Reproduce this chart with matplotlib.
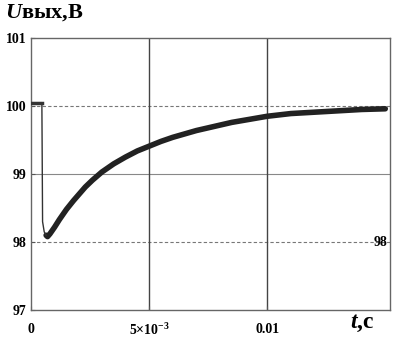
import matplotlib.pyplot as plt

# Dados (tempo em s, tensão em V)
t_ini = [0, 0.00046, 0.00047, 0.00049, 0.00056, 0.00064]
u_ini = [100.05, 100.05, 99.5, 98.3, 98.15, 98.1]

t = [0.00064, 0.0007, 0.0008, 0.0010, 0.0012, 0.0015, 0.0018, 0.002,
     0.0023, 0.0026, 0.003, 0.0035, 0.004, 0.0045, 0.005, 0.0055, 0.006,
     0.0065, 0.007, 0.0075, 0.008, 0.0085, 0.009, 0.0095, 0.010, 0.011,
     0.012, 0.013, 0.014, 0.015]
u = [98.1, 98.08, 98.12, 98.22, 98.33, 98.48, 98.61, 98.69,
     98.81, 98.91, 99.03, 99.15, 99.25, 99.34, 99.41, 99.48, 99.54,
     99.59, 99.64, 99.68, 99.72, 99.76, 99.79, 99.82, 99.85, 99.89,
     99.91, 99.93, 99.95, 99.96]

xticks = [0, 0.005, 0.01]
xlabels = ['0', r'$\mathbf{5{\times}10^{-3}}$', '0.01']
yticks = [97, 98, 99, 100, 101]

plt.rcParams['font.family'] = 'Liberation Serif'
plt.rcParams['font.weight'] = 'bold'
plt.rcParams['mathtext.fontset'] = 'custom'
plt.rcParams['mathtext.rm'] = 'Liberation Serif'
plt.rcParams['mathtext.it'] = 'Liberation Serif:italic:bold'
plt.rcParams['mathtext.bf'] = 'Liberation Serif:bold'

fig = plt.figure(figsize=(4, 3.43), dpi=100)
ax = fig.add_axes([0.0775, 0.096, 0.8975, 0.793])

ax.set_xlim(0, 0.0152)
ax.set_ylim(97, 101)

# linhas de grade no estilo Mathcad
ax.axhline(100, color='#777777', lw=0.8, ls=(0, (3, 2)), zorder=1)
ax.axhline(98, color='#777777', lw=0.8, ls=(0, (3, 2)), zorder=1)
ax.axhline(99, color='#888888', lw=0.8, zorder=1)
for xv in [0.005, 0.01]:
    ax.axvline(xv, color='#444444', lw=1.0, zorder=1)

ax.plot(t_ini, u_ini, color='#333333', lw=1.0, zorder=4)
ax.plot(t_ini[:2], u_ini[:2], color='#333333', lw=2.5, zorder=4)
ax.plot(t, u, color='#222222', lw=4.0, solid_capstyle='round', zorder=3)

ax.set_xticks(xticks)
ax.set_xticklabels(xlabels, fontsize=10, fontweight='bold')
ax.set_yticks(yticks)
ax.set_yticklabels([str(v) for v in yticks], fontsize=10, fontweight='bold')
ax.tick_params(direction='in', length=3, width=0.8, color='#555555', pad=3)
ax.tick_params(axis='x', pad=9)

for s in ax.spines.values():
    s.set_color('#666666')
    s.set_linewidth(1.0)

ax.text(0.0151, 98, '98', fontsize=10, fontweight='bold', ha='right', va='center')

fig.text(0.012, 0.963, r'$\mathit{U}$вых,В', fontsize=16,
         fontweight='bold', ha='left', va='center')
fig.text(0.935, 0.058, r'$\mathit{t}$,c', fontsize=17,
         fontweight='bold', ha='right', va='center')

plt.savefig('out.png', dpi=100)
